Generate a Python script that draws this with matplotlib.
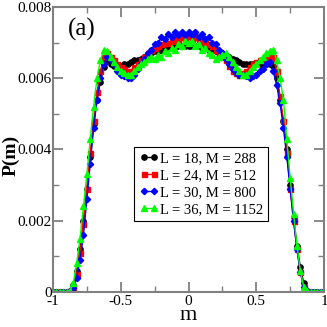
import numpy as np
import matplotlib
matplotlib.use("Agg")
import matplotlib.pyplot as plt
from matplotlib.ticker import MultipleLocator

plt.rcParams['font.family'] = ['Liberation Serif', 'DejaVu Serif']

# magnetization bins
m = np.linspace(-1.0, 1.0, 81)

# P(m) in units of 1e-3
p_L18 = [0, 0, 0, 0, 0,
         0.03, 0.2, 0.6, 1.2, 2.0, 2.9, 3.8, 4.7, 5.4, 5.9, 6.3, 6.5, 6.4, 6.35, 6.3,
         6.35, 6.4, 6.4, 6.45, 6.5, 6.5, 6.55, 6.6, 6.65, 6.7,
         6.75, 6.75, 6.8, 6.8, 6.85, 6.85, 6.9, 6.9, 6.9, 6.9,
         6.9,
         6.9, 6.9, 6.9, 6.85, 6.85, 6.8, 6.8, 6.75, 6.7, 6.7,
         6.65, 6.6, 6.55, 6.5, 6.45, 6.4, 6.4, 6.4, 6.4, 6.4,
         6.4, 6.4, 6.4, 6.4, 6.35, 6.0, 5.4, 4.8, 4.0, 3.0,
         2.1, 1.3, 0.7, 0.25, 0.04, 0, 0, 0, 0, 0]

p_L24 = [0, 0, 0, 0, 0,
         0.02, 0.15, 0.5, 1.1, 1.9, 2.9, 3.9, 4.8, 5.6, 6.2, 6.6, 6.7, 6.6, 6.5, 6.4,
         6.3, 6.25, 6.2, 6.2, 6.3, 6.4, 6.5, 6.6, 6.7, 6.8,
         6.85, 6.9, 6.95, 7.0, 7.0, 7.05, 7.1, 7.1, 7.15, 7.1,
         7.15,
         7.1, 7.15, 7.1, 7.05, 7.0, 6.95, 6.9, 6.8, 6.7, 6.6,
         6.5, 6.35, 6.2, 6.15, 6.1, 6.15, 6.2, 6.3, 6.4, 6.45,
         6.5, 6.55, 6.6, 6.65, 6.6, 6.2, 5.5, 4.8, 3.9, 2.9,
         2.0, 1.2, 0.55, 0.15, 0.02, 0, 0, 0, 0, 0]

p_L30 = [0, 0, 0, 0, 0,
         0.01, 0.1, 0.4, 0.9, 1.6, 2.6, 3.6, 4.6, 5.4, 6.0, 6.4, 6.6, 6.5, 6.4, 6.2,
         6.1, 6.05, 6.0, 6.0, 6.1, 6.25, 6.4, 6.55, 6.7, 6.8,
         6.95, 7.0, 7.15, 7.1, 7.25, 7.15, 7.3, 7.2, 7.3, 7.2,
         7.3,
         7.2, 7.3, 7.15, 7.25, 7.1, 7.15, 7.0, 6.95, 6.8, 6.7,
         6.55, 6.4, 6.25, 6.15, 6.1, 6.1, 6.05, 6.0, 6.05, 6.1,
         6.2, 6.25, 6.4, 6.45, 6.2, 5.8, 5.3, 4.6, 3.8, 2.9,
         2.0, 1.2, 0.55, 0.15, 0.02, 0, 0, 0, 0, 0]

p_L36 = [0, 0, 0, 0, 0,
         0.03, 0.25, 0.8, 1.5, 2.4, 3.3, 4.3, 5.2, 6.0, 6.5, 6.8, 6.75, 6.6, 6.45, 6.3,
         6.2, 6.15, 6.1, 6.1, 6.2, 6.3, 6.4, 6.45, 6.55, 6.6,
         6.55, 6.65, 6.6, 6.75, 6.7, 6.85, 6.8, 6.95, 6.9, 7.05,
         7.0,
         7.05, 6.9, 6.95, 6.8, 6.85, 6.7, 6.65, 6.55, 6.6, 6.65,
         6.7, 6.6, 6.45, 6.3, 6.2, 6.1, 6.1, 6.2, 6.3, 6.4,
         6.5, 6.6, 6.7, 6.75, 6.8, 6.5, 6.0, 5.4, 4.3, 3.2,
         2.2, 1.3, 0.6, 0.15, 0.02, 0, 0, 0, 0, 0]

labels = ['L = 18, M = 288', 'L = 24, M = 512', 'L = 30, M = 800', 'L = 36, M = 1152']
series = [p_L18, p_L24, p_L30, p_L36]
colors = ['black', 'red', 'blue', '#00ff00']
markers = ['o', 's', 'D', '^']
msizes = [3.8, 3.6, 3.2, 4.2]

fig = plt.figure(figsize=(3.27, 3.27), dpi=100)
ax = fig.add_axes([0.162, 0.107, 0.829, 0.872])

for p, c, mk, ms, lab in zip(series, colors, markers, msizes, labels):
    ax.plot(m, np.array(p) * 1e-3, color=c, marker=mk, markersize=ms,
            linewidth=1, label=lab)

ax.set_xlim(-1, 1)
ax.set_ylim(0, 0.008)
ax.set_xticks([-1, -0.5, 0, 0.5, 1])
ax.set_xticklabels(['-1', '-0.5', '0', '0.5', '1'])
ax.set_yticks([0, 0.002, 0.004, 0.006, 0.008])
ax.set_yticklabels(['0', '0.002', '0.004', '0.006', '0.008'])
ax.xaxis.set_minor_locator(MultipleLocator(0.25))
ax.yaxis.set_minor_locator(MultipleLocator(0.001))
ax.tick_params(which='both', direction='in', top=True, right=True,
               color='#808080', labelsize=11)
ax.tick_params(axis='y', pad=1)
ax.tick_params(axis='x', pad=2)
ax.tick_params(which='major', length=7, width=1.3)
ax.tick_params(which='minor', length=4, width=1)
for s in ax.spines.values():
    s.set_color('#808080')
    s.set_linewidth(1.5)

ax.set_xlabel('m', fontsize=16)
ax.xaxis.set_label_coords(0.5, -0.05)
ax.set_ylabel('P(m)', fontsize=14, fontweight='bold')
ax.yaxis.set_label_coords(-0.124, 0.48)
ax.text(0.055, 0.92, '(a)', transform=ax.transAxes, fontsize=18, va='center')

leg = ax.legend(loc='upper left', bbox_to_anchor=(0.299, 0.509), borderaxespad=0,
                fontsize=10.5, handlelength=1.3, handletextpad=0.1, numpoints=2,
                borderpad=0.35, labelspacing=0.25, fancybox=False, framealpha=1,
                markerscale=1.0)
leg.get_frame().set_edgecolor('black')
leg.get_frame().set_linewidth(0.8)

fig.savefig('out.png', dpi=100)
